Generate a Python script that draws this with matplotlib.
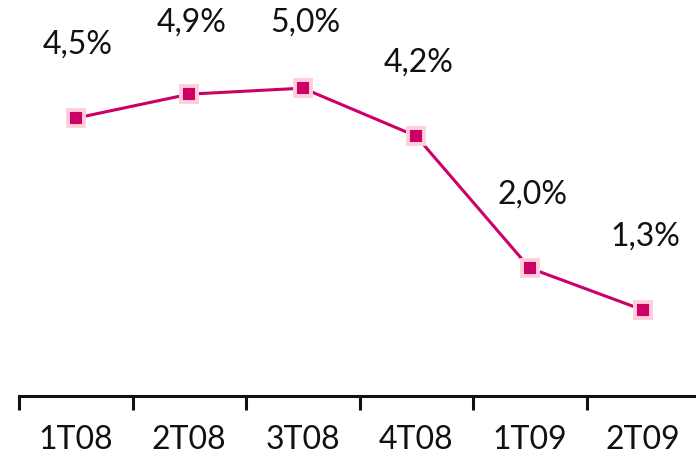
import matplotlib
matplotlib.use("Agg")
import matplotlib.pyplot as plt
import numpy as np

categories = ["1T08", "2T08", "3T08", "4T08", "1T09", "2T09"]
values = [4.5, 4.9, 5.0, 4.2, 2.0, 1.3]
labels = ["4,5%", "4,9%", "5,0%", "4,2%", "2,0%", "1,3%"]

plt.rcParams['font.family'] = ['Lato', 'DejaVu Sans']

fig = plt.figure(figsize=(6.96, 4.72), dpi=100)
ax = fig.add_axes([19/696, 76/472, 681/696, 396/472])
x = np.arange(len(categories))
ax.plot(x, values, color="#CC0066", lw=2.2, marker="s", ms=11.5,
        mfc="#CC0066", mec="#FFD0DC", mew=2.8, zorder=3)
ax.set_xlim(-0.5, len(categories) - 0.5)
ax.set_ylim(-0.133, 6.47)
for xi, v, lab in zip(x, values, labels):
    ax.text(xi + 0.02, min(v + 1.22, 6.1), lab, ha="center", va="center", fontsize=23, color="#111111")

for s in ["top", "right", "left"]:
    ax.spines[s].set_visible(False)
ax.spines["bottom"].set_linewidth(2.2)
ax.spines["bottom"].set_color("#111111")
ax.set_yticks([])
ax.set_xticks(x)
ax.set_xticklabels(categories, fontsize=23, color="#111111")
ax.tick_params(axis="x", which="major", length=0, pad=21)
ax.set_xticks(np.arange(-0.5, len(categories)), minor=True)
ax.tick_params(axis="x", which="minor", length=10, width=2.2, color="#111111", direction="out")
fig.savefig("out.png", dpi=100)
